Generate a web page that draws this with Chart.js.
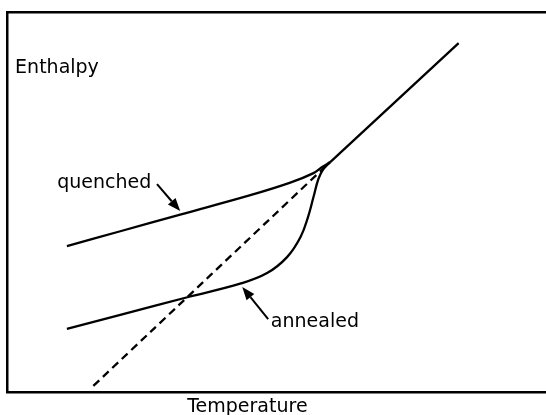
<!DOCTYPE html>
<html>
<head>
<meta charset="utf-8">
<script src="https://cdn.jsdelivr.net/npm/chart.js@4/dist/chart.umd.min.js"></script>
<style>
  html, body { margin: 0; padding: 0; background: #fff; overflow: hidden; }
  canvas { display: block; }
</style>
</head>
<body>
<canvas id="chart" width="600" height="415"></canvas>
<script>
// temperature / enthalpy in arbitrary units (box is open on the right)
const quenchedT = [11.1, 21.0, 32.1, 45.1, 52.5, 56.8, 58.4, 59.9];
const quenchedH = [38.4, 42.3, 46.7, 51.8, 55.1, 57.6, 59.2, 60.5];

const annealedT = [11.1, 21.0, 33.6, 43.2, 48.2, 51.9, 54.4, 55.8, 56.8, 57.7, 58.6, 59.9];
const annealedH = [16.6, 20.3, 25.0, 28.5, 31.3, 35.5, 40.8, 46.1, 51.3, 56.0, 58.6, 60.5];

const liquidT = [59.9, 83.7];
const liquidH = [60.5, 91.8];

const extrapT = [16.0, 59.5];
const extrapH = [1.6, 60.0];

const labels = [
  { text: 'Enthalpy', x: 1.5, y: 85.3 },
  { text: 'quenched', x: 9.3, y: 55.0 },
  { text: 'annealed', x: 48.9, y: 18.4 },
  { text: 'Temperature', x: 33.4, y: -3.9 }
];

// arrows: [tailT, tailH, tipT, tipH]
const arrows = [
  [27.8, 54.7, 32.1, 47.6],
  [48.4, 19.2, 43.6, 27.6]
];

const pts = (xs, ys) => xs.map((x, i) => ({ x: x, y: ys[i] }));

const notes = {
  id: 'notes',
  afterDraw(chart) {
    const ctx = chart.ctx;
    const xs = chart.scales.x, ys = chart.scales.y;
    ctx.save();
    ctx.fillStyle = '#000';
    ctx.strokeStyle = '#000';
    ctx.textAlign = 'left';
    ctx.textBaseline = 'middle';
    ctx.font = '19px "DejaVu Sans"';
    labels.forEach(l => {
      ctx.fillText(l.text, xs.getPixelForValue(l.x), ys.getPixelForValue(l.y));
    });
    ctx.lineWidth = 2;
    arrows.forEach(a => {
      const x0 = xs.getPixelForValue(a[0]), y0 = ys.getPixelForValue(a[1]);
      const x1 = xs.getPixelForValue(a[2]), y1 = ys.getPixelForValue(a[3]);
      const ang = Math.atan2(y1 - y0, x1 - x0);
      const len = 13, half = 5;
      const bx = x1 - len * Math.cos(ang), by = y1 - len * Math.sin(ang);
      ctx.beginPath();
      ctx.moveTo(x0, y0);
      ctx.lineTo(bx, by);
      ctx.stroke();
      ctx.beginPath();
      ctx.moveTo(x1, y1);
      ctx.lineTo(bx + half * Math.sin(ang), by - half * Math.cos(ang));
      ctx.lineTo(bx - half * Math.sin(ang), by + half * Math.cos(ang));
      ctx.closePath();
      ctx.fill();
    });
    ctx.restore();
  }
};

const line = (data, dash) => ({
  data: data,
  borderColor: '#000',
  borderWidth: 2.3,
  borderDash: dash || [],
  pointRadius: 0,
  tension: 0.4,
  fill: false
});

const hidden = { display: false };

new Chart(document.getElementById('chart'), {
  type: 'line',
  data: {
    datasets: [
      line(pts(quenchedT, quenchedH)),
      line(pts(annealedT, annealedH)),
      line(pts(liquidT, liquidH)),
      line(pts(extrapT, extrapH), [8, 5])
    ]
  },
  options: {
    responsive: false,
    animation: false,
    devicePixelRatio: 1,
    layout: { padding: { left: 7, top: 12, right: 0, bottom: 23 } },
    plugins: { legend: hidden, tooltip: { enabled: false } },
    scales: {
      x: {
        type: 'linear', min: 0, max: 109.9, position: 'bottom',
        ticks: hidden, grid: { display: false, drawTicks: false },
        border: { display: true, color: '#000', width: 2.5 }
      },
      x2: {
        type: 'linear', min: 0, max: 109.9, position: 'top',
        ticks: hidden, grid: { display: false, drawTicks: false },
        border: { display: true, color: '#000', width: 2.5 }
      },
      y: {
        type: 'linear', min: 0, max: 100,
        ticks: hidden, grid: { display: false, drawTicks: false },
        border: { display: true, color: '#000', width: 2.5 }
      }
    }
  },
  plugins: [notes]
});
</script>
</body>
</html>
